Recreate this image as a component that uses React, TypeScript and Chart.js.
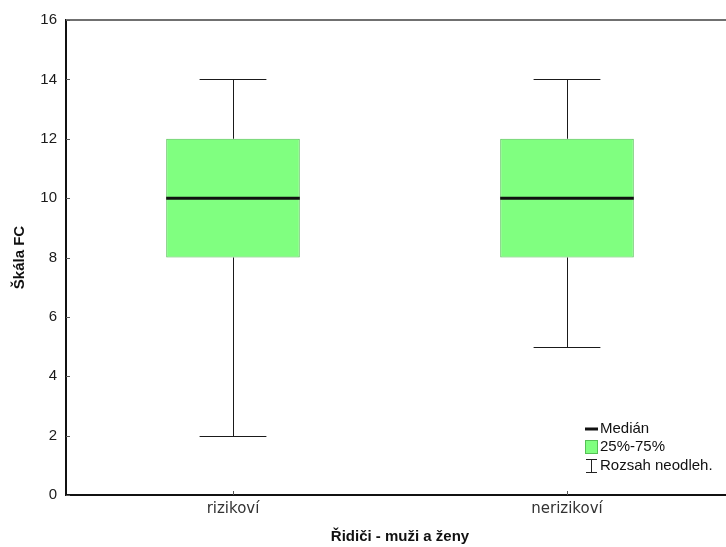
import { useEffect, useRef } from "react";
import { Chart, registerables } from "chart.js";

Chart.register(...registerables);

const categories = ["rizikoví", "nerizikoví"];
const minValues = [2, 5];
const q1Values = [8, 8];
const medianValues = [10, 10];
const q3Values = [12, 12];
const maxValues = [14, 14];
const yTicks = [0, 2, 4, 6, 8, 10, 12, 14, 16];
const legendLabels = ["Medián", "25%-75%", "Rozsah neodleh."];
const xTitle = "Řidiči - muži a ženy";
const yTitle = "Škála FC";

const BOX_FILL = "#80ff80";
const BOX_BORDER = "#55c055";

const boxPlugin = {
  id: "boxExtras",
  afterDatasetsDraw(chart: any) {
    const ctx = chart.ctx as CanvasRenderingContext2D;
    const y = chart.scales.y;
    const area = chart.chartArea;
    const meta = chart.getDatasetMeta(0);
    ctx.save();
    meta.data.forEach((bar: any, i: number) => {
      const cx = bar.x;
      const w = bar.width;
      const px = Math.round(cx) + 0.5;
      const yMax = Math.round(y.getPixelForValue(maxValues[i])) + 0.5;
      const yQ3 = y.getPixelForValue(q3Values[i]);
      const yQ1 = y.getPixelForValue(q1Values[i]);
      const yMin = Math.round(y.getPixelForValue(minValues[i])) + 0.5;
      const yMed = y.getPixelForValue(medianValues[i]);
      ctx.strokeStyle = "#1a1a1a";
      ctx.lineWidth = 1;
      ctx.beginPath();
      ctx.moveTo(px, yMax);
      ctx.lineTo(px, yQ3);
      ctx.moveTo(px, yQ1);
      ctx.lineTo(px, yMin);
      ctx.moveTo(cx - w / 4, yMax);
      ctx.lineTo(cx + w / 4, yMax);
      ctx.moveTo(cx - w / 4, yMin);
      ctx.lineTo(cx + w / 4, yMin);
      ctx.stroke();
      ctx.strokeStyle = "#111";
      ctx.lineWidth = 3;
      ctx.beginPath();
      ctx.moveTo(cx - w / 2, yMed);
      ctx.lineTo(cx + w / 2, yMed);
      ctx.stroke();
    });
    ctx.strokeStyle = "#707070";
    ctx.lineWidth = 2;
    ctx.beginPath();
    ctx.moveTo(area.left, area.top);
    ctx.lineTo(area.right + 20, area.top);
    ctx.stroke();
    ctx.strokeStyle = "#555";
    ctx.lineWidth = 1;
    ctx.beginPath();
    yTicks.forEach((v) => {
      const py = Math.round(y.getPixelForValue(v)) + 0.5;
      ctx.moveTo(area.left, py);
      ctx.lineTo(area.left + 4, py);
    });
    meta.data.forEach((bar: any) => {
      const px = Math.round(bar.x) + 0.5;
      ctx.moveTo(px, area.bottom);
      ctx.lineTo(px, area.bottom - 4);
    });
    ctx.stroke();
    const lx = 585;
    const rows = [429, 447, 466];
    ctx.font = "15px 'Liberation Sans', Arial, sans-serif";
    ctx.textBaseline = "middle";
    ctx.textAlign = "left";
    ctx.fillStyle = "#111";
    legendLabels.forEach((t, i) => ctx.fillText(t, lx + 15, rows[i]));
    ctx.strokeStyle = "#111";
    ctx.lineWidth = 3;
    ctx.beginPath();
    ctx.moveTo(lx, rows[0]);
    ctx.lineTo(lx + 13, rows[0]);
    ctx.stroke();
    ctx.fillStyle = BOX_FILL;
    ctx.fillRect(lx + 0.5, rows[1] - 6.5, 12, 13);
    ctx.strokeStyle = BOX_BORDER;
    ctx.lineWidth = 1;
    ctx.strokeRect(lx + 0.5, rows[1] - 6.5, 12, 13);
    ctx.strokeStyle = "#222";
    ctx.beginPath();
    ctx.moveTo(lx + 1, rows[2] - 6.5);
    ctx.lineTo(lx + 12, rows[2] - 6.5);
    ctx.moveTo(lx + 6.5, rows[2] - 6.5);
    ctx.lineTo(lx + 6.5, rows[2] + 6.5);
    ctx.moveTo(lx + 1, rows[2] + 6.5);
    ctx.lineTo(lx + 12, rows[2] + 6.5);
    ctx.stroke();
    ctx.restore();
  },
};

export default function App() {
  const ref = useRef<HTMLCanvasElement | null>(null);
  useEffect(() => {
    if (!ref.current) return;
    const chart = new Chart(ref.current, {
      type: "bar",
      data: {
        labels: categories,
        datasets: [
          {
            label: "25%-75%",
            data: categories.map((_, i) => [q1Values[i], q3Values[i]]) as any,
            backgroundColor: BOX_FILL,
            borderColor: BOX_BORDER,
            borderWidth: 1,
            borderSkipped: false,
            barPercentage: 0.4,
            categoryPercentage: 1,
          },
        ],
      },
      options: {
        animation: false,
        responsive: true,
        maintainAspectRatio: false,
        layout: { padding: { top: 20, right: 26, left: 0, bottom: 0 } },
        plugins: { legend: { display: false }, tooltip: { enabled: false } },
        scales: {
          x: {
            offset: true,
            grid: { display: false, drawTicks: false },
            border: { display: true, color: "#111", width: 2 },
            ticks: {
              padding: 5,
              color: "#333",
              font: { family: "'DejaVu Sans', sans-serif", size: 15 },
            },
            title: {
              display: true,
              text: xTitle,
              color: "#111",
              font: { family: "'Liberation Sans', Arial, sans-serif", size: 15, weight: "bold" },
              padding: { top: 0, bottom: 1 },
            },
            afterFit: (s: any) => {
              s.height = 52;
            },
          },
          y: {
            min: 0,
            max: 16,
            grid: { display: false, drawTicks: false },
            border: { display: true, color: "#111", width: 2 },
            afterBuildTicks: (s: any) => {
              s.ticks = yTicks.map((v) => ({ value: v }));
            },
            ticks: {
              padding: 9,
              color: "#1a1a1a",
              font: { family: "'Liberation Sans', Arial, sans-serif", size: 15 },
            },
            title: {
              display: true,
              text: yTitle,
              color: "#111",
              font: { family: "'Liberation Sans', Arial, sans-serif", size: 15, weight: "bold" },
              padding: { top: 11, bottom: 0 },
            },
            afterFit: (s: any) => {
              s.width = 66;
            },
          },
        },
      },
      plugins: [boxPlugin],
    });
    return () => chart.destroy();
  }, []);
  return (
    <div
      style={{
        position: "fixed",
        left: 0,
        top: 0,
        width: 726,
        height: 547,
        overflow: "hidden",
        background: "#fff",
      }}
    >
      <div style={{ position: "relative", width: 760, height: 547 }}>
        <canvas ref={ref} />
      </div>
    </div>
  );
}
